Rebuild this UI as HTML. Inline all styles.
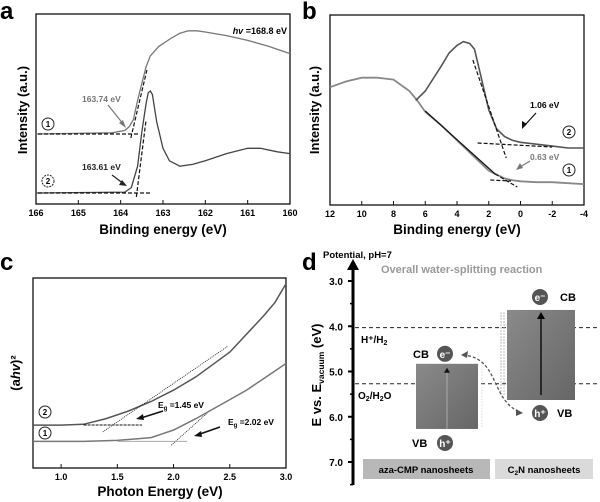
<!DOCTYPE html>
<html><head><meta charset="utf-8"><style>
body{margin:0;background:#fff;}
svg{display:block;font-family:"Liberation Sans",Arial,sans-serif;font-weight:bold;}
</style></head><body>
<svg id="fig" width="600" height="502" viewBox="0 0 600 502">
<text x="0" y="19" font-size="24">a</text>
<text x="302" y="19" font-size="24">b</text>
<text x="0" y="270" font-size="24">c</text>
<text x="302" y="270" font-size="24">d</text>

<g>
<rect x="36" y="14" width="254" height="190" fill="none" stroke="#111" stroke-width="1.3"/>
<g id="ticksA"></g>
<text x="163" y="234" font-size="13.5" text-anchor="middle">Binding energy (eV)</text>
<text transform="translate(27,110) rotate(-90)" font-size="13" text-anchor="middle">Intensity (a.u.)</text>
<text x="287" y="34" font-size="9" text-anchor="end"><tspan font-style="italic">hv</tspan> =168.8 eV</text>
<g id="curvesA"></g>
<text x="82" y="102" font-size="8.5" fill="#777">163.74 eV</text>
<line x1="108" y1="105" x2="124" y2="125" stroke="#777" stroke-width="1.2"/>
<polygon points="126,128 119,123 123,120" fill="#777"/>
<text x="82" y="170" font-size="8.5" fill="#222">163.61 eV</text>
<line x1="112" y1="175" x2="124" y2="184" stroke="#222" stroke-width="1.2"/>
<polygon points="127,186 119,185 122,180" fill="#222"/>
<circle cx="48" cy="124" r="6" fill="none" stroke="#222" stroke-width="1"/><text x="48" y="127" font-size="8" text-anchor="middle">1</text>
<circle cx="48" cy="181" r="6" fill="none" stroke="#222" stroke-width="1" stroke-dasharray="2 1"/><text x="48" y="184" font-size="8" text-anchor="middle">2</text>
</g>

<g>
<rect x="330" y="15" width="254" height="190" fill="none" stroke="#111" stroke-width="1.3"/>
<g id="ticksB"></g>
<text x="457" y="234" font-size="13.5" text-anchor="middle">Binding energy (eV)</text>
<text transform="translate(319,110) rotate(-90)" font-size="13" text-anchor="middle">Intensity (a.u.)</text>
<g id="curvesB"></g>
<text x="530" y="108" font-size="8.5">1.06 eV</text>
<line x1="536" y1="113" x2="525" y2="125" stroke="#111" stroke-width="1.2"/><polygon points="522,129 522,121 527,124" fill="#111"/>
<text x="530" y="160" font-size="8.5" fill="#777">0.63 eV</text>
<line x1="530" y1="161" x2="520" y2="167" stroke="#777" stroke-width="1.2"/><polygon points="516,170 520,163 523,168" fill="#777"/>
<circle cx="569" cy="132" r="6" fill="none" stroke="#222"/><text x="569" y="135" font-size="8" text-anchor="middle">2</text>
<circle cx="569" cy="170" r="6" fill="none" stroke="#222"/><text x="569" y="173" font-size="8" text-anchor="middle">1</text>
</g>

<g>
<rect x="33" y="278" width="253" height="190" fill="none" stroke="#111" stroke-width="1.3"/>
<g id="ticksC"></g>
<text x="160" y="496" font-size="13.5" text-anchor="middle">Photon Energy (eV)</text>
<text transform="translate(20,373) rotate(-90)" font-size="13" text-anchor="middle">(a<tspan font-style="italic">hv</tspan>)²</text>
<g id="curvesC"></g>
<text x="158" y="408" font-size="8.5">E<tspan font-size="6" dy="2">g</tspan><tspan dy="-2"> =1.45 eV</tspan></text>
<line x1="163" y1="411" x2="141" y2="418" stroke="#111" stroke-width="1.5"/><polygon points="136,419 143,414 144,420" fill="#111"/>
<text x="228" y="425" font-size="8.5">E<tspan font-size="6" dy="2">g</tspan><tspan dy="-2"> =2.02 eV</tspan></text>
<line x1="220" y1="427" x2="200" y2="434" stroke="#111" stroke-width="1.5"/><polygon points="194,436 201,431 202,437" fill="#111"/>
<circle cx="45" cy="412" r="6" fill="none" stroke="#222"/><text x="45" y="415" font-size="8" text-anchor="middle">2</text>
<circle cx="45" cy="433" r="6" fill="none" stroke="#222"/><text x="45" y="436" font-size="8" text-anchor="middle">1</text>
</g>

<g>
<text x="323" y="258" font-size="9.5">Potential, pH=7</text>
<line x1="353" y1="485" x2="353" y2="268" stroke="#000" stroke-width="3"/>
<polygon points="347,270 359,270 353,259" fill="#000"/>
<g id="ticksD"></g>
<text transform="translate(321,375) rotate(-90)" font-size="13" text-anchor="middle">E vs. E<tspan font-size="8.5" dy="3">vacuum</tspan><tspan dy="-3"> (eV)</tspan></text>
<text x="381" y="273" font-size="11" fill="#999">Overall water-splitting reaction</text>
<defs>
<linearGradient id="gb" x1="0" y1="0" x2="1" y2="1"><stop offset="0" stop-color="#8a8a8a"/><stop offset="1" stop-color="#666"/></linearGradient>
</defs>
<g id="bandsD"></g>
<text x="361" y="343" font-size="10">H⁺/H<tspan font-size="7" dy="2">2</tspan></text>
<text x="358" y="399" font-size="10">O<tspan font-size="7" dy="2">2</tspan><tspan dy="-2">/H</tspan><tspan font-size="7" dy="2">2</tspan><tspan dy="-2">O</tspan></text>
<path d="M463,355 C500,358 490,400 520,412" fill="none" stroke="#555" stroke-width="1.3" stroke-dasharray="3 2"/>
<polygon points="461,355 468,351 467,358" fill="#555"/><polygon points="523,413 516,409 516,416" fill="#555"/>
<rect x="363" y="459" width="127" height="20" fill="#b8b8b8"/>
<text x="426" y="473" font-size="9.5" text-anchor="middle">aza-CMP nanosheets</text>
<rect x="495" y="459" width="98" height="20" fill="#dadada"/>
<text x="544" y="473" font-size="9.5" text-anchor="middle">C<tspan font-size="6.5" dy="2">2</tspan><tspan dy="-2">N nanosheets</tspan></text>
</g>
</svg>
<script>
const aTicks=[166,165,164,163,162,161,160];
const aX1=[166,164.2,163.9,163.8,163.7,163.6,163.5,163.4,163.3,163.1,162.8,162.6,162.4,162.2,162,161.5,161,160.5,160];
const aY1=[0,0.01,0.03,0.06,0.12,0.28,0.42,0.56,0.65,0.73,0.8,0.84,0.86,0.86,0.85,0.82,0.78,0.73,0.67];
const aX2=[166,163.9,163.75,163.6,163.5,163.4,163.35,163.3,163.25,163.15,163,162.85,162.6,162.3,162,161.5,161,160.7,160.3,160];
const aY2=[0,0.005,0.03,0.15,0.34,0.5,0.56,0.57,0.55,0.4,0.25,0.18,0.15,0.16,0.18,0.22,0.25,0.25,0.23,0.22];
const bTicks=[12,10,8,6,4,2,0,-2,-4];
const bX1=[12,11,10,9,8,7,6.5,6,5,4,3,2,1.5,1,0.5,0,-1,-2,-3,-4];
const bY1=[0.62,0.65,0.67,0.67,0.66,0.6,0.55,0.49,0.42,0.34,0.26,0.18,0.16,0.14,0.13,0.125,0.12,0.12,0.115,0.11];
const bX2=[6.6,6,5,4.5,4,3.6,3.2,2.9,2.5,2,1.5,1,0.5,0,-1,-2,-3,-4];
const bY2=[0.55,0.6,0.73,0.8,0.84,0.86,0.85,0.82,0.68,0.5,0.4,0.36,0.34,0.33,0.32,0.31,0.3,0.3];
const cTicks=[1.0,1.5,2.0,2.5,3.0];
const cX2=[0.75,1.0,1.2,1.4,1.6,1.8,2.0,2.2,2.5,2.8,2.9,3.0];
const cY2=[0.226,0.226,0.23,0.26,0.3,0.35,0.41,0.48,0.61,0.8,0.87,0.97];
const cX1=[0.75,1.2,1.5,1.8,1.9,2.0,2.1,2.2,2.35,2.5,2.65,2.8,3.0];
const cY1=[0.14,0.14,0.145,0.16,0.18,0.2,0.23,0.26,0.31,0.36,0.41,0.47,0.55];
const dTicks=[3.0,4.0,5.0,6.0,7.0];
const dLevels=[4.03,5.27];
const azaBand=[4.83,6.27];
const c2nBand=[3.64,5.63];

const NS='http://www.w3.org/2000/svg';
function el(p,tag,at){const e=document.createElementNS(NS,tag);for(const k in at)e.setAttribute(k,at[k]);p.appendChild(e);return e;}
function lin(d0,d1,r0,r1){return v=>r0+(v-d0)/(d1-d0)*(r1-r0);}
function path(xs,ys,sx,sy){return xs.map((x,i)=>(i?'L':'M')+sx(x).toFixed(1)+','+sy(ys[i]).toFixed(1)).join('');}

{const sx=lin(166,160,36,290), sy=lin(0,1,193,14);
const sy1=lin(0,1,134,14);
const g=document.getElementById('ticksA');
aTicks.forEach(t=>{const x=sx(t);el(g,'line',{x1:x,y1:204,x2:x,y2:200,stroke:'#111'});
const tx=el(g,'text',{x:x,y:216,'font-size':9,'text-anchor':'middle'});tx.textContent=t;

});
const c=document.getElementById('curvesA');
const p1=el(c,'path',{d:path(aX1,aY1,sx,sy1),fill:'none',stroke:'#777','stroke-width':1.3});


const p2=el(c,'path',{d:path(aX2,aY2,sx,sy),fill:'none',stroke:'#444','stroke-width':1.3});


el(c,'line',{x1:38,y1:134,x2:138,y2:134,stroke:'#111','stroke-dasharray':'4 2','stroke-width':1.2});
el(c,'line',{x1:sx(163.76),y1:138,x2:sx(163.38),y2:70,stroke:'#111','stroke-dasharray':'4 2','stroke-width':1.2});
el(c,'line',{x1:38,y1:193,x2:150,y2:193,stroke:'#111','stroke-dasharray':'4 2','stroke-width':1.2});
el(c,'line',{x1:sx(163.63),y1:197,x2:sx(163.4),y2:120,stroke:'#111','stroke-dasharray':'4 2','stroke-width':1.2});}

{const sx=lin(12,-4,330,584), sy=lin(0,1,205,15);
const g=document.getElementById('ticksB');
bTicks.forEach(t=>{const x=sx(t);el(g,'line',{x1:x,y1:205,x2:x,y2:201,stroke:'#111'});
const tx=el(g,'text',{x:x,y:217,'font-size':9,'text-anchor':'middle'});tx.textContent=t;

});
const c=document.getElementById('curvesB');
const p1=el(c,'path',{d:path(bX1,bY1,sx,sy),fill:'none',stroke:'#888','stroke-width':1.8});


const p2=el(c,'path',{d:path(bX2,bY2,sx,sy),fill:'none',stroke:'#555','stroke-width':1.6});


const ds={stroke:'#111','stroke-dasharray':'4 2','stroke-width':1.2};
el(c,'line',Object.assign({x1:sx(2.7),y1:143,x2:sx(-2),y2:147},ds));
el(c,'line',Object.assign({x1:sx(3),y1:60,x2:sx(0.9),y2:158},ds));
el(c,'line',Object.assign({x1:sx(1.9),y1:180,x2:sx(0.6),y2:181},ds));
el(c,'line',{x1:sx(6),y1:111,x2:sx(1.6),y2:174,stroke:'#111','stroke-width':1.2});
el(c,'line',Object.assign({x1:sx(1.6),y1:174,x2:sx(0.2),y2:187},ds));}

{const sx=lin(0.75,3.0,33,286), sy=lin(0,1,468,278);
const g=document.getElementById('ticksC');
cTicks.forEach(t=>{const x=sx(t);el(g,'line',{x1:x,y1:468,x2:x,y2:464,stroke:'#111'});
const tx=el(g,'text',{x:x,y:480,'font-size':9,'text-anchor':'middle'});tx.textContent=t.toFixed(1);

});
const c=document.getElementById('curvesC');
const p2=el(c,'path',{d:path(cX2,cY2,sx,sy),fill:'none',stroke:'#555','stroke-width':1.5});


const p1=el(c,'path',{d:path(cX1,cY1,sx,sy),fill:'none',stroke:'#777','stroke-width':1.5});


el(c,'line',{x1:sx(1.2),y1:sy(0.226),x2:sx(1.72),y2:sy(0.226),stroke:'#111','stroke-dasharray':'3 1','stroke-width':1});
el(c,'line',{x1:sx(1.37),y1:sy(0.19),x2:sx(2.48),y2:sy(0.64),stroke:'#111','stroke-dasharray':'1 1','stroke-width':0.8});
el(c,'line',{x1:sx(1.98),y1:sy(0.12),x2:sx(2.3),y2:sy(0.29),stroke:'#111','stroke-dasharray':'1 1','stroke-width':0.8});
el(c,'line',{x1:sx(1.5),y1:sy(0.14),x2:sx(2.12),y2:sy(0.14),stroke:'#aaa','stroke-width':1});}

{const sy=lin(3,7,281,462);
const g=document.getElementById('ticksD');
dTicks.forEach(t=>{const y=sy(t);el(g,'line',{x1:348,y1:y,x2:353,y2:y,stroke:'#000','stroke-width':2});
el(g,'line',{x1:350,y1:sy(t+0.5),x2:353,y2:sy(t+0.5),stroke:'#000','stroke-width':1.5});
const tx=el(g,'text',{x:343,y:y+4,'font-size':10,'text-anchor':'end'});tx.textContent=t.toFixed(1);

});
const b=document.getElementById('bandsD');
dLevels.forEach(v=>{const l=el(b,'line',{x1:355,y1:sy(v),x2:600,y2:sy(v),stroke:'#222','stroke-dasharray':'4 3','stroke-width':1});

});
const r1=el(b,'rect',{x:416,y:sy(azaBand[0]),width:62,height:sy(azaBand[1])-sy(azaBand[0]),fill:'url(#gb)'});


el(b,'line',{x1:447,y1:sy(azaBand[1]),x2:447,y2:sy(azaBand[0])+6,stroke:'#aaa','stroke-width':1});
el(b,'polygon',{points:`444,${sy(azaBand[0])+9} 450,${sy(azaBand[0])+9} 447,${sy(azaBand[0])+4}`,fill:'#111'});
el(b,'line',{x1:482,y1:sy(azaBand[0])+5,x2:482,y2:sy(azaBand[1])-2,stroke:'#ccc','stroke-dasharray':'1 2'});
const r2=el(b,'rect',{x:507,y:sy(c2nBand[0]),width:68,height:sy(c2nBand[1])-sy(c2nBand[0]),fill:'url(#gb)'});


el(b,'line',{x1:501,y1:sy(c2nBand[0])+2,x2:501,y2:sy(c2nBand[1])-5,stroke:'#bbb','stroke-dasharray':'2 1'});
el(b,'line',{x1:504,y1:sy(c2nBand[0])+2,x2:504,y2:sy(c2nBand[1])-5,stroke:'#bbb','stroke-dasharray':'2 1'});
el(b,'line',{x1:541,y1:sy(c2nBand[1])-5,x2:541,y2:sy(c2nBand[0])+6,stroke:'#000','stroke-width':1.3});
el(b,'polygon',{points:`537,${sy(c2nBand[0])+9} 545,${sy(c2nBand[0])+9} 541,${sy(c2nBand[0])+2}`,fill:'#000'});
function carrier(cx,cy,t,name){const c=el(b,'circle',{cx:cx,cy:cy,r:8,fill:'#555'});


const tx=el(b,'text',{x:cx,y:cy+4,'font-size':10,fill:'#fff','text-anchor':'middle'});tx.textContent=t;}
function lab(x,y,t,name){const tx=el(b,'text',{x:x,y:y,'font-size':11});tx.textContent=t;

}
carrier(445,sy(azaBand[0])-10,'e⁻','electron-aza');lab(413,sy(azaBand[0])-6,'CB','cb-label-aza');
carrier(445,sy(azaBand[1])+14,'h⁺','hole-aza');lab(412,sy(azaBand[1])+18,'VB','vb-label-aza');
carrier(540,sy(c2nBand[0])-13,'e⁻','electron-c2n');lab(560,sy(c2nBand[0])-9,'CB','cb-label-c2n');
carrier(540,sy(c2nBand[1])+13,'h⁺','hole-c2n');lab(557,sy(c2nBand[1])+17,'VB','vb-label-c2n');}
</script>
</body></html>
